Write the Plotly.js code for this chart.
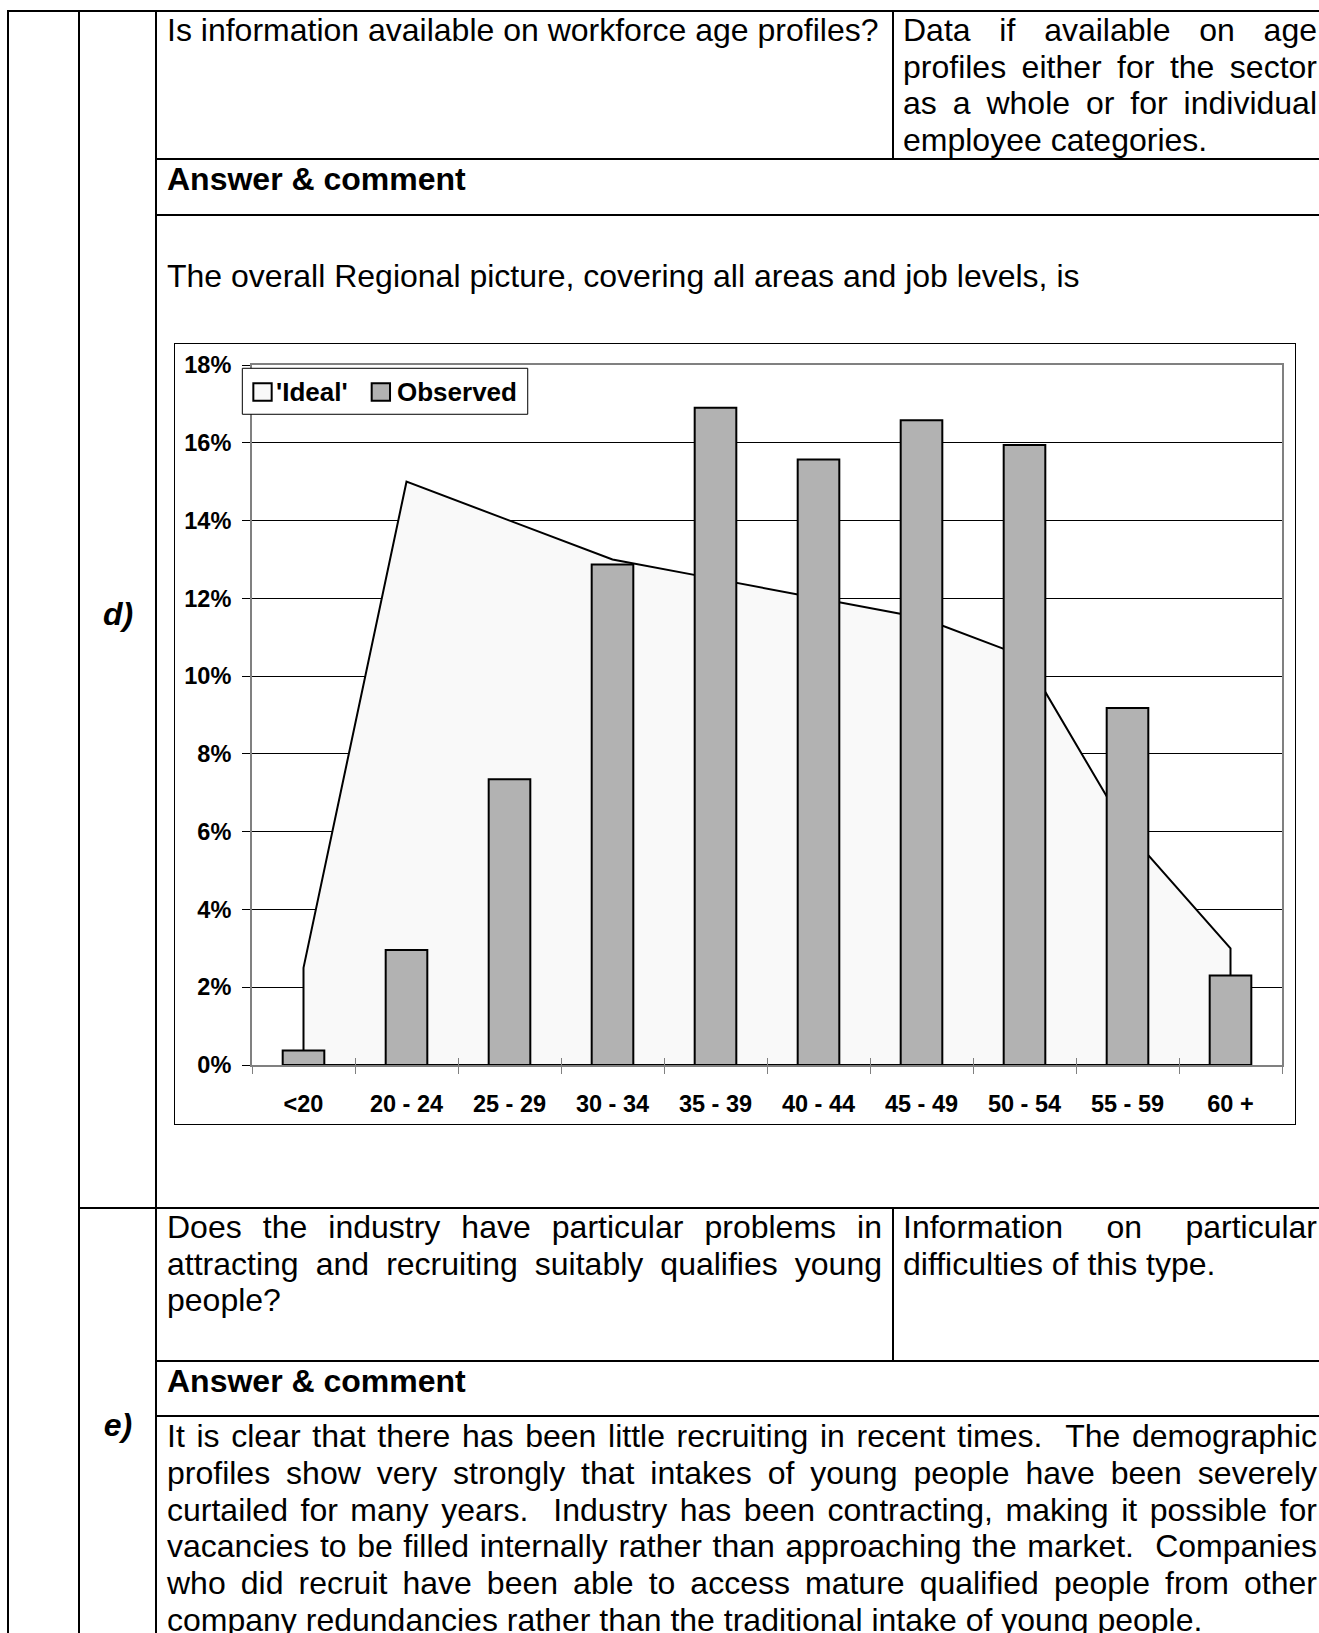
<!DOCTYPE html>
<html>
<head>
<meta charset="utf-8">
<script src="https://cdn.plot.ly/plotly-3.0.1.min.js"></script>
<style>
html,body{margin:0;padding:0;background:#fff;}
body{width:1319px;height:1633px;position:relative;overflow:hidden;font-family:'Liberation Sans',Arial,sans-serif;color:#000;}
.h{position:absolute;height:2px;background:#000;}
.v{position:absolute;width:2px;background:#000;}
.t{position:absolute;font-size:32px;line-height:36.7px;white-space:nowrap;}
.j{text-align:justify;text-align-last:justify;white-space:normal;}
.b{font-weight:bold;}
.lbl{position:absolute;left:80px;width:76px;text-align:center;font-size:32px;line-height:36.7px;font-weight:bold;font-style:italic;}
#chartwrap{position:absolute;left:174px;top:343px;width:1120px;height:780px;border:1px solid #000;}
#chart{width:1120px;height:780px;}
</style>
</head>
<body>
<!-- table rules -->
<div class="v" style="left:7px;top:10px;height:1623px;"></div>
<div class="v" style="left:78px;top:10px;height:1623px;"></div>
<div class="v" style="left:155px;top:10px;height:1623px;"></div>
<div class="v" style="left:892px;top:10px;height:150px;"></div>
<div class="v" style="left:892px;top:1207px;height:155px;"></div>
<div class="h" style="left:7px;top:10px;width:1320px;"></div>
<div class="h" style="left:155px;top:158px;width:1170px;"></div>
<div class="h" style="left:155px;top:214px;width:1170px;"></div>
<div class="h" style="left:78px;top:1207px;width:1250px;"></div>
<div class="h" style="left:155px;top:1360px;width:1170px;"></div>
<div class="h" style="left:155px;top:1415px;width:1170px;"></div>

<!-- row d -->
<div class="t" style="left:167px;top:12px;">Is information available on workforce age profiles?</div>
<div class="t j" style="left:903px;top:12px;width:414px;">Data if available on age</div>
<div class="t j" style="left:903px;top:48.7px;width:414px;">profiles either for the sector</div>
<div class="t j" style="left:903px;top:85.4px;width:414px;">as a whole or for individual</div>
<div class="t" style="left:903px;top:122.1px;">employee categories.</div>
<div class="t b" style="left:167px;top:161px;">Answer &amp; comment</div>
<div class="t" style="left:167px;top:258px;">The overall Regional picture, covering all areas and job levels, is</div>
<div class="lbl" style="top:595.5px;">d)</div>

<div id="chartwrap"><div id="chart"></div></div>

<!-- row e -->
<div class="t j" style="left:167px;top:1209px;width:715px;">Does the industry have particular problems in</div>
<div class="t j" style="left:167px;top:1245.7px;width:715px;">attracting and recruiting suitably qualifies young</div>
<div class="t" style="left:167px;top:1282.4px;">people?</div>
<div class="t j" style="left:903px;top:1209px;width:414px;">Information on particular</div>
<div class="t" style="left:903px;top:1245.7px;">difficulties of this type.</div>
<div class="t b" style="left:167px;top:1363px;">Answer &amp; comment</div>
<div class="lbl" style="top:1407px;">e)</div>
<div class="t j" style="left:167px;top:1418.2px;width:1150px;">It is clear that there has been little recruiting in recent times.&nbsp; The demographic</div>
<div class="t j" style="left:167px;top:1454.9px;width:1150px;">profiles show very strongly that intakes of young people have been severely</div>
<div class="t j" style="left:167px;top:1491.6px;width:1150px;">curtailed for many years.&nbsp; Industry has been contracting, making it possible for</div>
<div class="t j" style="left:167px;top:1528.3px;width:1150px;">vacancies to be filled internally rather than approaching the market.&nbsp; Companies</div>
<div class="t j" style="left:167px;top:1565px;width:1150px;">who did recruit have been able to access mature qualified people from other</div>
<div class="t" style="left:167px;top:1601.7px;">company redundancies rather than the traditional intake of young people.</div>

<script>
// ---- chart data ----
const ageGroups = ['<20', '20 - 24', '25 - 29', '30 - 34', '35 - 39', '40 - 44', '45 - 49', '50 - 54', '55 - 59', '60 +'];
const observedPct = [0.37, 2.96, 7.35, 12.87, 16.90, 15.57, 16.58, 15.94, 9.18, 2.30];
const idealPct = [2.5, 15, 14, 13, 12.5, 12, 11.5, 10.5, 6, 3];
const yTickVals = [0, 2, 4, 6, 8, 10, 12, 14, 16, 18];
const yTickText = yTickVals.map(v => v + '%');
const seriesNames = ["'Ideal'", 'Observed'];

// closed outline of the area (down to the baseline at both ends, then along it)
const last = ageGroups.length - 1;
const idealX = [ageGroups[0]].concat(ageGroups, [ageGroups[last], ageGroups[0]]);
const idealY = [0].concat(idealPct, [0, 0]);

const FONT = 'Liberation Sans, Arial, sans-serif';

const traces = [
  {
    type: 'scatter', name: seriesNames[0], x: idealX, y: idealY,
    mode: 'lines', fill: 'toself', fillcolor: '#F9F9F9',
    line: {color: '#000', width: 2}, xaxis: 'x', yaxis: 'y', hoverinfo: 'skip'
  },
  {
    type: 'bar', name: seriesNames[1], x: ageGroups, y: observedPct,
    marker: {color: '#B2B2B2', line: {color: '#000', width: 2}},
    xaxis: 'x2', yaxis: 'y2', hoverinfo: 'skip'
  }
];

// legend drawn in paper coordinates
const legendShapes = [
  {type: 'rect', xref: 'paper', yref: 'paper', x0: -0.0094, x1: 0.2677, y0: 0.9296, y1: 0.9953,
   line: {color: '#000', width: 1}, fillcolor: '#fff', layer: 'above'},
  {type: 'rect', xref: 'paper', yref: 'paper', x0: 0.0013, x1: 0.0191, y0: 0.949, y1: 0.9739,
   line: {color: '#000', width: 2}, fillcolor: '#F9F9F9', layer: 'above'},
  {type: 'rect', xref: 'paper', yref: 'paper', x0: 0.1162, x1: 0.1340, y0: 0.949, y1: 0.9739,
   line: {color: '#000', width: 2}, fillcolor: '#B2B2B2', layer: 'above'}
];
const legendText = [
  {xref: 'paper', yref: 'paper', x: 0.0215, y: 0.9614, xanchor: 'left', yanchor: 'middle', showarrow: false,
   text: seriesNames[0], font: {family: FONT, size: 26, weight: 700, color: '#000'}},
  {xref: 'paper', yref: 'paper', x: 0.1385, y: 0.9614, xanchor: 'left', yanchor: 'middle', showarrow: false,
   text: seriesNames[1], font: {family: FONT, size: 26, weight: 700, color: '#000'}}
];

const layout = {
  width: 1120, height: 780,
  margin: {l: 77, r: 13, t: 21, b: 59, pad: 0},
  paper_bgcolor: '#fff', plot_bgcolor: '#fff',
  showlegend: false, bargap: 0.596,
  font: {family: FONT, color: '#000'},
  xaxis: {
    type: 'category', categoryorder: 'array', categoryarray: ageGroups, range: [-0.5, 9.5],
    showline: true, linecolor: '#808080', linewidth: 2, mirror: true, layer: 'below traces',
    ticks: 'outside', ticklen: 7, tickwidth: 1, tickcolor: '#808080', tickson: 'boundaries',
    showgrid: false, zeroline: false,
    tickfont: {family: FONT, size: 23.5, weight: 700, color: '#000'}, ticklabelstandoff: 17
  },
  xaxis2: {
    type: 'category', categoryorder: 'array', categoryarray: ageGroups, range: [-0.5, 9.5],
    overlaying: 'x', anchor: 'y2', showline: false, showgrid: false, zeroline: false,
    ticks: 'inside', ticklen: 7, tickwidth: 1, tickcolor: '#808080', tickson: 'boundaries',
    showticklabels: false
  },
  yaxis: {
    range: [0, 18], tickvals: yTickVals, ticktext: yTickText,
    showline: true, linecolor: '#808080', linewidth: 2, mirror: true,
    ticks: 'outside', ticklen: 8, tickwidth: 1, tickcolor: '#000',
    showgrid: true, gridcolor: '#000', gridwidth: 1, zeroline: false,
    tickfont: {family: FONT, size: 23.5, weight: 700, color: '#000'}, ticklabelstandoff: 6
  },
  yaxis2: {range: [0, 18], overlaying: 'y', visible: false},
  shapes: legendShapes,
  annotations: legendText
};

Plotly.newPlot('chart', traces, layout, {staticPlot: true, displayModeBar: false});
</script>
</body>
</html>
